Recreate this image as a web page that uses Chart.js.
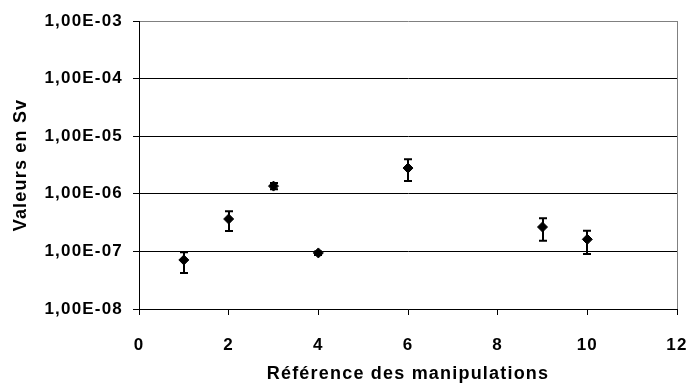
<!DOCTYPE html>
<html>
<head>
<meta charset="utf-8">
<script src="https://cdn.jsdelivr.net/npm/chart.js@4/dist/chart.umd.min.js"></script>
<style>
  html, body { margin: 0; padding: 0; background: #fff; }
  #wrap { width: 689px; height: 385px; }
</style>
</head>
<body>
<div id="wrap"><canvas id="chart"></canvas></div>
<script>
// data
const manipRefs = [1, 2, 3, 4, 6, 9, 10];
const doseValues = [7.1e-8, 3.65e-7, 1.36e-6, 9.4e-8, 2.8e-6, 2.65e-7, 1.62e-7];
const errHigh = [9.7e-8, 5.0e-7, 1.54e-6, 1.0e-7, 3.97e-6, 3.76e-7, 2.28e-7];
const errLow = [4.2e-8, 2.25e-7, 1.2e-6, 8.7e-8, 1.67e-6, 1.53e-7, 9.0e-8];
const yTickValues = [1e-8, 1e-7, 1e-6, 1e-5, 1e-4, 1e-3];
const xMin = 0, xMax = 12, xStep = 2;

const SPACING = '1.2px';

// excel-ish letter spacing on the canvas text
const spacingPlugin = {
    id: 'spacing',
    beforeLayout(chart) { chart.ctx.letterSpacing = SPACING; },
    beforeDraw(chart) { chart.ctx.letterSpacing = SPACING; }
};

// vertical error bars with caps
const errorBars = {
    id: 'errorBars',
    afterDatasetsDraw(chart) {
        const { ctx, scales: { x, y } } = chart;
        ctx.save();
        ctx.strokeStyle = '#000';
        ctx.lineWidth = 2;
        manipRefs.forEach((ref, i) => {
            const px = Math.round(x.getPixelForValue(ref));
            const top = y.getPixelForValue(errHigh[i]);
            const bot = y.getPixelForValue(errLow[i]);
            ctx.beginPath();
            ctx.moveTo(px, top); ctx.lineTo(px, bot);
            ctx.moveTo(px - 4, top); ctx.lineTo(px + 4, top);
            ctx.moveTo(px - 4, bot); ctx.lineTo(px + 4, bot);
            ctx.stroke();
        });
        ctx.restore();
    }
};

// grey right edge of the plot area
const frame = {
    id: 'frame',
    beforeDatasetsDraw(chart) {
        const { ctx, chartArea: a } = chart;
        ctx.save();
        ctx.strokeStyle = '#808080';
        ctx.lineWidth = 1;
        ctx.beginPath();
        ctx.moveTo(Math.round(a.right) + 0.5, a.top);
        ctx.lineTo(Math.round(a.right) + 0.5, a.bottom);
        ctx.stroke();
        ctx.restore();
    }
};

Chart.defaults.font.family = "'Liberation Sans', Arial, sans-serif";
Chart.defaults.font.size = 17;
Chart.defaults.font.weight = 'bold';
Chart.defaults.color = '#000';

new Chart(document.getElementById('chart'), {
    type: 'scatter',
    data: {
        datasets: [{
            data: manipRefs.map((r, i) => ({ x: r, y: doseValues[i] })),
            pointStyle: 'rectRot',
            pointRadius: 5,
            backgroundColor: '#000',
            borderColor: '#000',
            borderWidth: 1
        }]
    },
    options: {
        responsive: true,
        maintainAspectRatio: false,
        animation: false,
        layout: { padding: { left: 6, right: 0, top: 21, bottom: 0 } },
        plugins: { legend: { display: false }, tooltip: { enabled: false } },
        scales: {
            x: {
                type: 'linear',
                min: xMin, max: xMax,
                ticks: { stepSize: xStep, padding: 20 },
                grid: { drawOnChartArea: false, drawTicks: true, tickLength: 6, tickColor: '#000' },
                border: { color: '#000', width: 1 },
                title: {
                    display: true, text: 'Référence des manipulations',
                    font: { size: 18 }, padding: { top: 4, bottom: 0 }
                },
                afterFit(s) {
                    s.height = 385 - 309;
                    s.paddingLeft = 0;
                    s.paddingRight = 12;
                }
            },
            y: {
                type: 'logarithmic',
                min: yTickValues[0], max: yTickValues[yTickValues.length - 1],
                afterBuildTicks(s) { s.ticks = yTickValues.map(v => ({ value: v })); },
                ticks: {
                    padding: 10,
                    callback(v) {
                        const e = Math.round(Math.log10(v));
                        return '1,00E-' + String(-e).padStart(2, '0');
                    }
                },
                grid: {
                    color: c => (c.tick && c.tick.value === 1e-3) ? '#808080' : '#000',
                    tickColor: '#000',
                    tickLength: 6,
                    lineWidth: 1
                },
                border: { color: '#000', width: 1 },
                title: {
                    display: true, text: 'Valeurs en Sv',
                    font: { size: 18 }, padding: { top: 4, bottom: 4 }
                },
                afterFit(s) { s.width = 139 - 6; }
            }
        }
    },
    plugins: [spacingPlugin, frame, errorBars]
});
</script>
</body>
</html>
